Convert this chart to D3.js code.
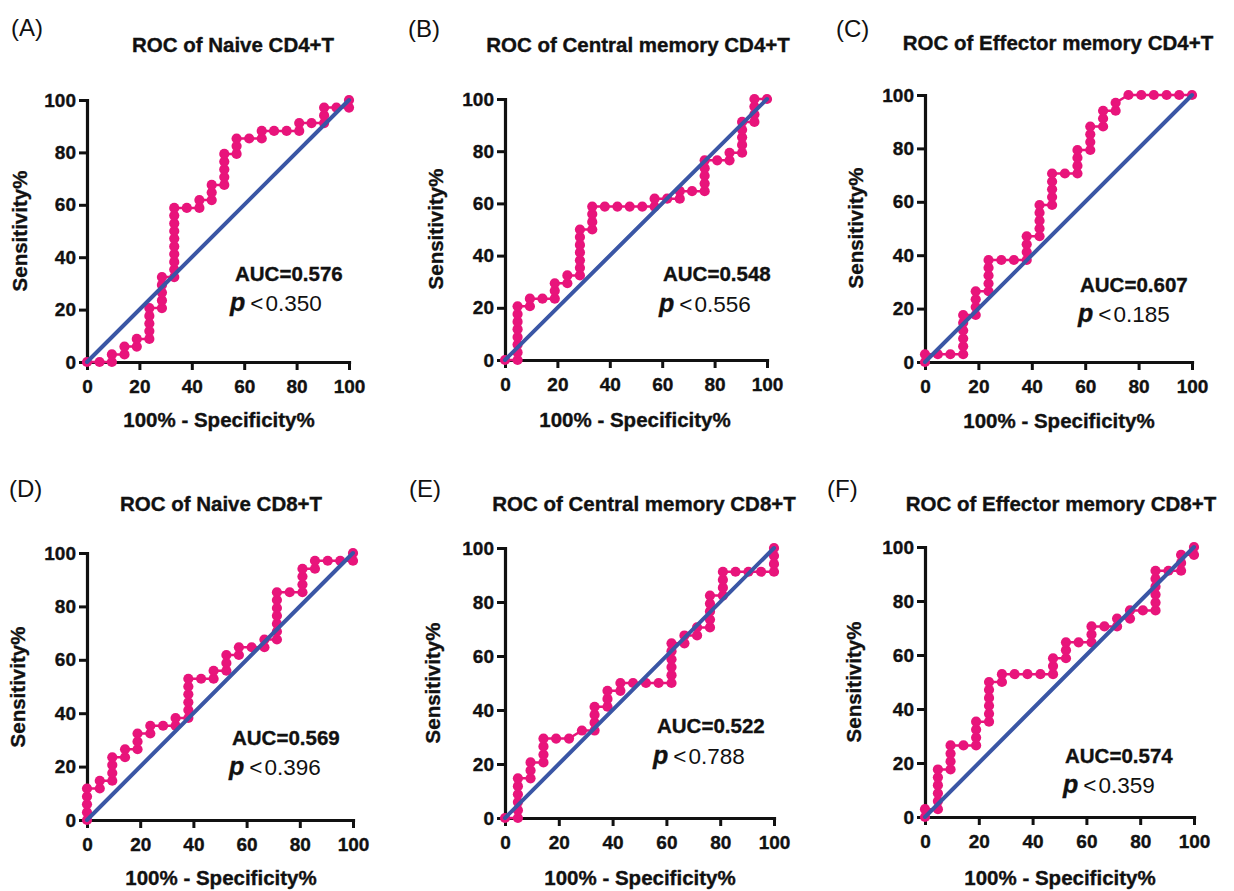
<!DOCTYPE html>
<html>
<head>
<meta charset="utf-8">
<script src="https://cdn.jsdelivr.net/npm/d3@7"></script>
<style>
  body { margin: 0; background: #fff; }
  svg text { font-family: "Liberation Sans", Arial, Helvetica, sans-serif; fill: #111; }
  .heavy { font-weight: bold; stroke: #111; stroke-width: 0.35px; }
</style>
</head>
<body>
<svg id="chart" width="1234" height="891"></svg>
<script>
// panel texts
const panelTags = ["(A)", "(B)", "(C)", "(D)", "(E)", "(F)"];
const titles = [
    "ROC of Naive CD4+T", "ROC of Central memory CD4+T", "ROC of Effector memory CD4+T",
    "ROC of Naive CD8+T", "ROC of Central memory CD8+T", "ROC of Effector memory CD8+T"
];
const aucValues = ["0.576", "0.548", "0.607", "0.569", "0.522", "0.574"];
const pValues = ["0.350", "0.556", "0.185", "0.396", "0.788", "0.359"];
const tickValues = [0, 20, 40, 60, 80, 100];
const xTitle = "100% - Specificity%";
const yTitle = "Sensitivity%";

// ROC points: [100% - specificity, [sensitivity values at that x]]
const rocNaiveCD4 = [[0,[0]],[4.8,[0]],[9.5,[0,2.9]],[14.3,[2.9,5.9]],[19,[5.9,8.8]],
    [23.8,[8.8,11.8,14.7,17.6,20.6]],[28.6,[20.6,23.5,26.5,29.4,32.4]],
    [33.3,[32.4,35.3,38.2,41.2,44.1,47.1,50,52.9,55.9,58.8]],[38.1,[58.8]],[42.9,[58.8,61.8]],
    [47.6,[61.8,64.7,67.6]],[52.4,[67.6,70.6,73.5,76.5,79.4]],[57.1,[79.4,82.4,85.3]],[61.9,[85.3]],
    [66.7,[85.3,88.2]],[71.4,[88.2]],[76.2,[88.2]],[81,[88.2,91.2]],[85.7,[91.2]],
    [90.5,[91.2,94.1,97.1]],[95.2,[97.1]],[100,[97.1,100]]];

const rocCentralCD4 = [[0,[0]],[4.8,[0,2.9,5.9,8.8,11.8,14.7,17.6,20.6]],[9.5,[20.6,23.5]],[14.3,[23.5]],
    [19,[23.5,26.5,29.4]],[23.8,[29.4,32.4]],[28.6,[32.4,35.3,38.2,41.2,44.1,47.1,50]],
    [33.3,[50,52.9,55.9,58.8]],[38.1,[58.8]],[42.9,[58.8]],[47.6,[58.8]],[52.4,[58.8]],
    [57.1,[58.8,61.8]],[61.9,[61.8]],[66.7,[61.8,64.7]],[71.4,[64.7]],[76.2,[64.7,67.6,70.6,73.5,76.5]],
    [81,[76.5]],[85.7,[76.5,79.4]],[90.5,[79.4,82.4,85.3,88.2,91.2]],[95.2,[91.2,94.1,97.1,100]],[100,[100]]];

const rocEffectorCD4 = [[0,[0,2.9]],[4.8,[2.9]],[9.5,[2.9]],[14.3,[2.9,5.9,8.8,11.8,14.7,17.6]],
    [19,[17.6,20.6,23.5,26.5]],[23.8,[26.5,29.4,32.4,35.3,38.2]],[28.6,[38.2]],[33.3,[38.2]],
    [38.1,[38.2,41.2,44.1,47.1]],[42.9,[47.1,50,52.9,55.9,58.8]],[47.6,[58.8,61.8,64.7,67.6,70.6]],
    [52.4,[70.6]],[57.1,[70.6,73.5,76.5,79.4]],[61.9,[79.4,82.4,85.3,88.2]],[66.7,[88.2,91.2,94.1]],
    [71.4,[94.1,97.1]],[76.2,[100]],[81,[100]],[85.7,[100]],[90.5,[100]],[95.2,[100]],[100,[100]]];

const rocNaiveCD8 = [[0,[0,2.9,5.9,8.8,11.8]],[4.8,[11.8,14.7]],[9.5,[14.7,17.6,20.6,23.5]],[14.3,[23.5,26.5]],
    [19,[26.5,29.4,32.4]],[23.8,[32.4,35.3]],[28.6,[35.3]],[33.3,[35.3,38.2]],
    [38.1,[38.2,41.2,44.1,47.1,50,52.9]],[42.9,[52.9]],[47.6,[52.9,55.9]],[52.4,[55.9,58.8,61.8]],
    [57.1,[61.8,64.7]],[61.9,[64.7]],[66.7,[64.7,67.6]],[71.4,[67.6,70.6,73.5,76.5,79.4,82.4,85.3]],
    [76.2,[85.3]],[81,[85.3,88.2,91.2,94.1]],[85.7,[94.1,97.1]],[90.5,[97.1]],[95.2,[97.1]],[100,[97.1,100]]];

const rocCentralCD8 = [[0,[0]],[4.8,[0,2.9,5.9,8.8,11.8,14.7]],[9.5,[14.7,17.6,20.6]],[14.3,[20.6,23.5,26.5,29.4]],
    [19,[29.4]],[23.8,[29.4]],[28.6,[32.4]],[33.3,[32.4,35.3,38.2,41.2]],[38.1,[41.2,44.1,47.1]],
    [42.9,[47.1,50]],[47.6,[50]],[52.4,[50]],[57.1,[50]],[61.9,[50,52.9,55.9,58.8,61.8,64.7]],
    [66.7,[64.7,67.6]],[71.4,[67.6,70.6]],[76.2,[70.6,73.5,76.5,79.4,82.4]],[81,[82.4,85.3,88.2,91.2]],
    [85.7,[91.2]],[90.5,[91.2]],[95.2,[91.2]],[100,[91.2,94.1,97.1,100]]];

const rocEffectorCD8 = [[0,[0,2.9]],[4.8,[2.9,5.9,8.8,11.8,14.7,17.6]],[9.5,[17.6,20.6,23.5,26.5]],[14.3,[26.5]],
    [19,[26.5,29.4,32.4,35.3]],[23.8,[35.3,38.2,41.2,44.1,47.1,50]],[28.6,[50,52.9]],[33.3,[52.9]],
    [38.1,[52.9]],[42.9,[52.9]],[47.6,[52.9,55.9,58.8]],[52.4,[58.8,61.8,64.7]],[57.1,[64.7]],
    [61.9,[64.7,67.6,70.6]],[66.7,[70.6]],[71.4,[70.6,73.5]],[76.2,[73.5,76.5]],[81,[76.5]],
    [85.7,[76.5,79.4,82.4,85.3,88.2,91.2]],[90.5,[91.2]],[95.2,[91.2,94.1,97.1]],[100,[97.1,100]]];

const curves = [rocNaiveCD4, rocCentralCD4, rocEffectorCD4, rocNaiveCD8, rocCentralCD8, rocEffectorCD8];

// where each panel sits on the page
const layout = [
    { x0: 87,  x1: 349,  y0: 362, y1: 100, tag: [11, 36],   title: [233, 52],   auc: [235, 281],  p: [230, 311],  xl: [219, 427],  yl: [27, 231] },
    { x0: 505, x1: 767,  y0: 360, y1: 99,  tag: [408, 37],  title: [638, 52],   auc: [663, 281],  p: [659, 312],  xl: [635, 427],  yl: [443, 229] },
    { x0: 925, x1: 1192, y0: 362, y1: 95,  tag: [836, 37],  title: [1058, 50],  auc: [1080, 292], p: [1078, 322], xl: [1059, 428], yl: [863, 228] },
    { x0: 87,  x1: 353,  y0: 820, y1: 553, tag: [9, 497],   title: [221, 511],  auc: [232, 745],  p: [229, 775],  xl: [221, 885],  yl: [25, 687] },
    { x0: 505, x1: 774,  y0: 818, y1: 548, tag: [409, 497], title: [644, 511],  auc: [657, 733],  p: [653, 764],  xl: [640, 885],  yl: [440, 683] },
    { x0: 925, x1: 1194, y0: 817, y1: 547, tag: [827, 497], title: [1061, 511], auc: [1065, 763], p: [1063, 793], xl: [1060, 885], yl: [861, 682] }
];

const pink = "#e8147b";
const blue = "#3a56a5";

const svg = d3.select("#chart");

function drawPanel(i) {
    const L = layout[i];
    const pts = curves[i].flatMap(([fx, ys]) => ys.map(s => ({ fx: fx, s: s })));

    const x = d3.scaleLinear().domain([0, 100]).range([L.x0, L.x1]);
    const y = d3.scaleLinear().domain([0, 100]).range([L.y0, L.y1]);

    const g = svg.append("g");

    // axes
    const xa = g.append("g")
        .attr("transform", "translate(0," + L.y0 + ")")
        .call(d3.axisBottom(x).tickValues(tickValues).tickSize(8).tickSizeOuter(0).tickPadding(10));
    const ya = g.append("g")
        .attr("transform", "translate(" + L.x0 + ",0)")
        .call(d3.axisLeft(y).tickValues(tickValues).tickSize(8).tickSizeOuter(0).tickPadding(3));

    [xa, ya].forEach(a => {
        a.select(".domain").attr("stroke", "#111").attr("stroke-width", 3.2).attr("stroke-linecap", "square");
        a.selectAll(".tick line").attr("stroke", "#111").attr("stroke-width", 3);
        a.selectAll(".tick text")
            .attr("class", "heavy")
            .attr("fill", "#111")
            .style("font-size", "19px")
            .style("font-family", "'Liberation Sans', Arial, sans-serif");
    });

    // ROC curve
    const line = d3.line()
        .x(d => x(d.fx))
        .y(d => y(d.s));

    g.append("path")
        .datum(pts)
        .attr("fill", "none")
        .attr("stroke", pink)
        .attr("stroke-width", 2.5)
        .attr("d", line);

    g.selectAll("circle")
        .data(pts)
        .join("circle")
        .attr("cx", d => x(d.fx))
        .attr("cy", d => y(d.s))
        .attr("r", 5.1)
        .attr("fill", pink);

    // reference diagonal
    g.append("path")
        .datum([{ fx: 0, s: 0 }, { fx: 100, s: 100 }])
        .attr("fill", "none")
        .attr("stroke", blue)
        .attr("stroke-width", 4)
        .attr("stroke-linecap", "round")
        .attr("d", line);

    // texts
    g.append("text")
        .attr("x", L.tag[0]).attr("y", L.tag[1])
        .style("font-size", "24px")
        .text(panelTags[i]);

    g.append("text")
        .attr("class", "heavy")
        .attr("x", L.title[0]).attr("y", L.title[1])
        .attr("text-anchor", "middle")
        .style("font-size", "20.5px")
        .text(titles[i]);

    g.append("text")
        .attr("class", "heavy")
        .attr("x", L.xl[0]).attr("y", L.xl[1])
        .attr("text-anchor", "middle")
        .style("font-size", "20.5px")
        .text(xTitle);

    g.append("text")
        .attr("class", "heavy")
        .attr("transform", "translate(" + L.yl[0] + "," + L.yl[1] + ") rotate(-90)")
        .attr("text-anchor", "middle")
        .style("font-size", "20.5px")
        .text(yTitle);

    g.append("text")
        .attr("class", "heavy")
        .attr("x", L.auc[0]).attr("y", L.auc[1])
        .style("font-size", "20.5px")
        .text("AUC=" + aucValues[i]);

    const pt = g.append("text")
        .attr("x", L.p[0]).attr("y", L.p[1]);
    pt.append("tspan")
        .attr("class", "heavy")
        .style("font-size", "25px").style("font-style", "italic")
        .text("p");
    pt.append("tspan")
        .attr("dx", 5)
        .style("font-size", "22.5px")
        .text("<");
    pt.append("tspan")
        .attr("dx", 2)
        .style("font-size", "22.5px")
        .text(pValues[i]);
}

for (let i = 0; i < 6; i++) drawPanel(i);
</script>
</body>
</html>
